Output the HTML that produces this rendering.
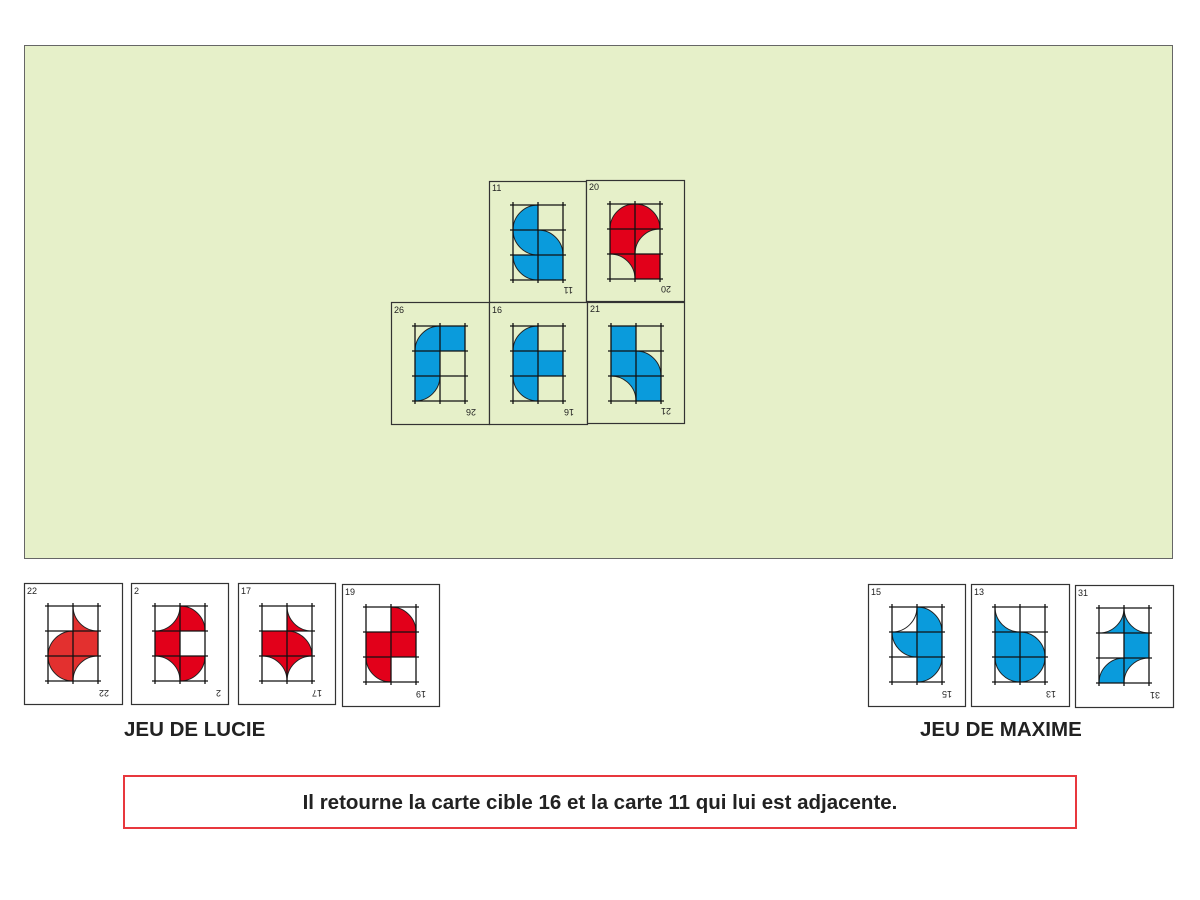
<!DOCTYPE html>
<html><head><meta charset="utf-8">
<style>
html,body{margin:0;padding:0;background:#fff;width:1200px;height:900px;overflow:hidden;font-family:"Liberation Sans",Arial,sans-serif}
svg{position:absolute;left:0;top:0}
.lab{position:absolute;font-weight:bold;font-size:20.5px;color:#222;}
.box{position:absolute;left:123px;top:775px;width:950px;height:50px;border:2px solid #e8383d;box-sizing:content-box;text-align:center;line-height:52px;font-weight:bold;font-size:20.5px;color:#222}
</style></head><body>
<svg id="s" width="1200" height="900" xmlns="http://www.w3.org/2000/svg" font-family="Liberation Sans, sans-serif">
<rect x="24.5" y="45.5" width="1148" height="513" fill="#e6f0c9" stroke="#666" stroke-width="1"/>
<g id="cards"></g>
<g font-size="9" fill="#222">
<text x="492" y="191">11</text><text x="583" y="293" transform="rotate(180 578 290)">11</text>
<text x="589" y="190">20</text><text x="681" y="292" transform="rotate(180 676 289)">20</text>
<text x="394" y="313">26</text><text x="486" y="415" transform="rotate(180 481 412)">26</text>
<text x="492" y="313">16</text><text x="584" y="415" transform="rotate(180 579 412)">16</text>
<text x="590" y="312">21</text><text x="681" y="414" transform="rotate(180 676 411)">21</text>
<text x="27" y="594">22</text><text x="119" y="696" transform="rotate(180 114 693)">22</text>
<text x="134" y="594">2</text><text x="225" y="696" transform="rotate(180 223 693)">2</text>
<text x="241" y="594">17</text><text x="332" y="696" transform="rotate(180 327 693)">17</text>
<text x="345" y="595">19</text><text x="436" y="697" transform="rotate(180 431 694)">19</text>
<text x="871" y="595">15</text><text x="962" y="697" transform="rotate(180 957 694)">15</text>
<text x="974" y="595">13</text><text x="1066" y="697" transform="rotate(180 1061 694)">13</text>
<text x="1078" y="596">31</text><text x="1170" y="698" transform="rotate(180 1165 695)">31</text>
</g>
</svg>
<div class="lab" style="left:124px;top:718px">JEU DE LUCIE</div>
<div class="lab" style="left:920px;top:718px">JEU DE MAXIME</div>
<div class="box">Il retourne la carte cible 16 et la carte 11 qui lui est adjacente.</div>
<script>
var B="#0a9bdc",R="#e2001a";
var cards=[
[489,181,97,121,B,24,24,[["Dbr",""],["Dtr","Dbl"],["Dtr","F"]]],
[586,180,98,121,R,24,24,[["Dbr","Dbl"],["F","Cbr"],["Cbl","F"]]],
[391,302,98,122,B,24,24,[["Dbr","F"],["F",""],["Dtl",""]]],
[489,302,98,122,B,24,24,[["Dbr",""],["F","F"],["Dtr",""]]],
[587,302,97,121,B,24,24,[["F",""],["F","Dbl"],["Cbl","F"]]],
[24,583,98,121,"#e3302f",24,23,[["","Ctr"],["Dbr","F"],["Dtr","Cbr"]]],
[131,583,97,121,R,24,23,[["Ctl","Dbl"],["F",""],["Cbl","Dtl"]]],
[238,583,97,121,R,24,23,[["","Ctr"],["F","Dbl"],["Cbl","Cbr"]]],
[342,584,97,122,R,24,23,[["","Dbl"],["F","F"],["Dtr",""]]],
[868,584,97,122,B,24,23,[["Atl","Dbl"],["Dtr","F"],["","Dtl"]]],
[971,584,98,122,B,24,23,[["Ctr",""],["F","Dbl"],["Dtr","Dtl"]]],
[1075,585,98,122,B,24,23,[["Ctl","Ctr"],["","F"],["Dbr","Cbr"]]]
];
var s=25,out="";
cards.forEach(function(c){
 var X=c[0],Y=c[1];
 out+='<rect x="'+(X+.5)+'" y="'+(Y+.5)+'" width="'+c[2]+'" height="'+c[3]+'" fill="'+(Y<500?"#e6f0c9":"#fff")+'" stroke="#333" stroke-width="1.2"/>';
 var gx=X+c[5],gy=Y+c[6];
 for(var r=0;r<3;r++)for(var k=0;k<2;k++){
  var t=c[7][r][k];if(!t)continue;
  var x=gx+k*s,y=gy+r*s,d,fill=c[4];
  var P={tl:[x,y],tr:[x+s,y],bl:[x,y+s],br:[x+s,y+s]};
  var ord={br:["bl","tr","tl"],bl:["tl","br","tr"],tl:["tr","bl","br"],tr:["br","tl","bl"]};
  if(t=="F"){d="M"+x+","+y+"h"+s+"v"+s+"h"+(-s)+"Z";}
  else{var cn=t.slice(1),o=ord[cn],p1=P[o[0]],p2=P[o[1]],O=P[o[2]],C=P[cn];
   if(t[0]=="D")d="M"+C+"L"+p1+"A"+s+" "+s+" 0 0 1 "+p2+"Z";
   else if(t[0]=="A"){d="M"+p1+"A"+s+" "+s+" 0 0 1 "+p2;fill="none";}
   else d="M"+p1+"L"+O+"L"+p2+"A"+s+" "+s+" 0 0 0 "+p1+"Z";}
  out+='<path d="'+d+'" fill="'+fill+'" stroke="#222" stroke-width="1"/>';
 }
 for(var i=0;i<3;i++)out+='<line x1="'+(gx+i*s)+'" y1="'+(gy-3)+'" x2="'+(gx+i*s)+'" y2="'+(gy+3*s+3)+'" stroke="#111" stroke-width="1.3"/>';
 for(var j=0;j<4;j++)out+='<line x1="'+(gx-3)+'" y1="'+(gy+j*s)+'" x2="'+(gx+2*s+3)+'" y2="'+(gy+j*s)+'" stroke="#111" stroke-width="1.3"/>';
});
document.getElementById("cards").innerHTML=out;
</script>
</body></html>
